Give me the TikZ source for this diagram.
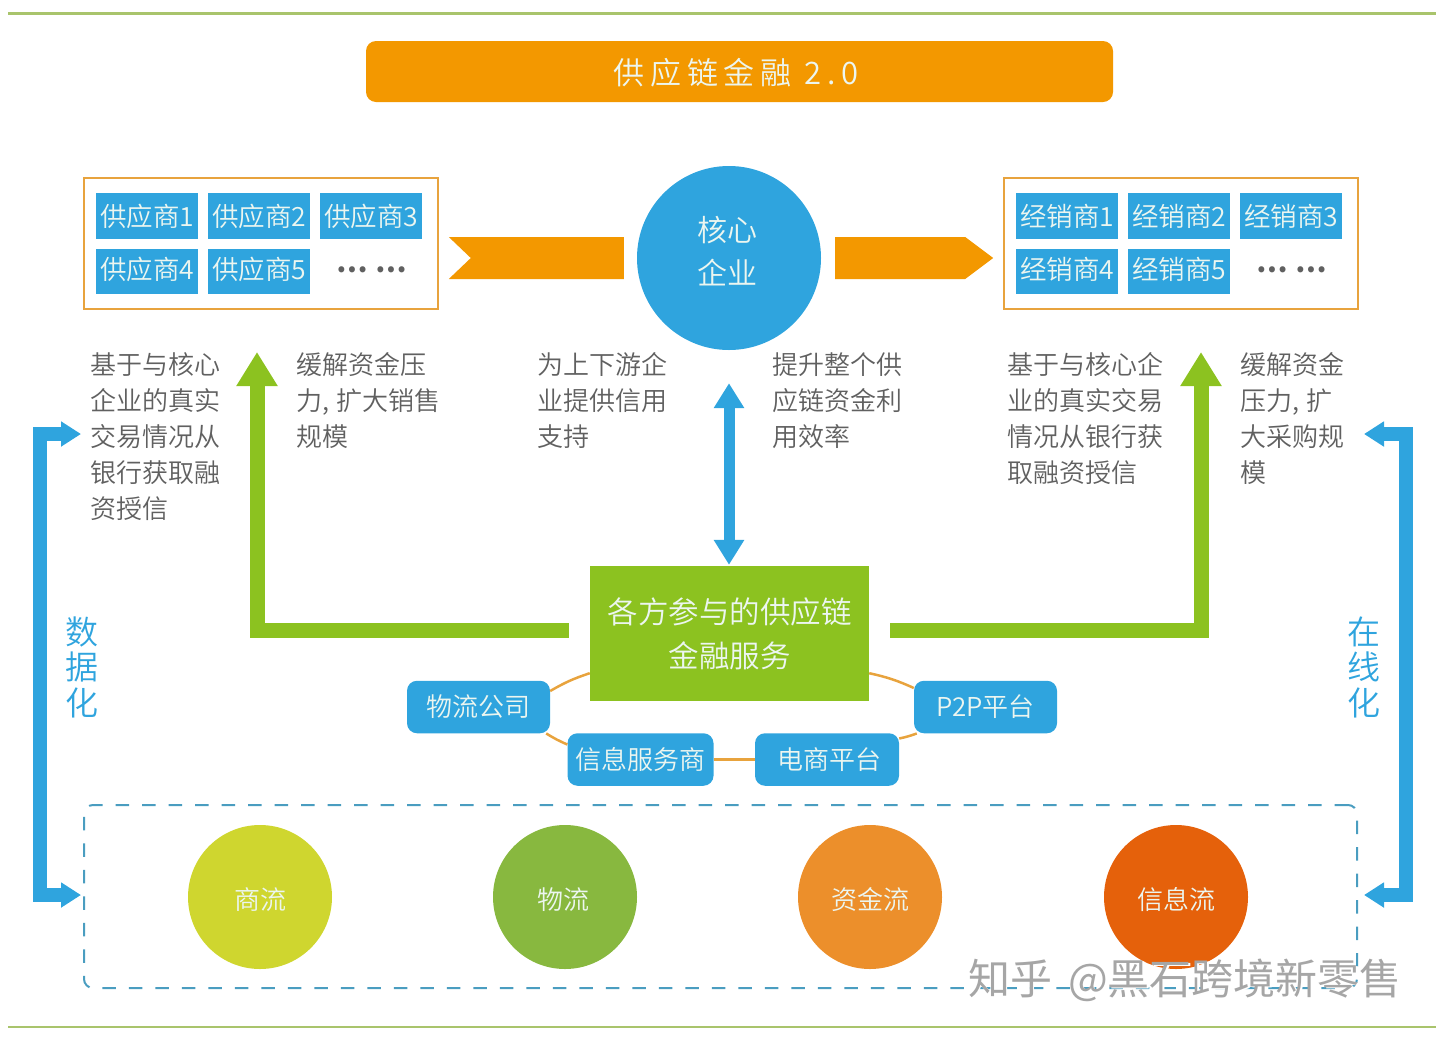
\documentclass[tikz,border=0pt]{standalone}
\usepackage{fontspec}
\setmainfont{Noto Sans CJK SC}[UprightFont=* DemiLight]
\newfontfamily\dotsfont{Noto Sans CJK SC Black}
\newfontfamily\markface{Noto Sans CJK SC}
\usetikzlibrary{arrows.meta,calc}
\definecolor{skyblue}{RGB}{47, 164, 222}
\definecolor{amber}{RGB}{243, 152, 0}
\definecolor{ringorange}{RGB}{232, 163, 61}
\definecolor{leafgreen}{RGB}{140, 194, 32}
\definecolor{rulegreen}{RGB}{169, 196, 108}
\definecolor{dashblue}{RGB}{74, 157, 192}
\definecolor{inkgray}{RGB}{96, 96, 96}
\definecolor{paletext}{RGB}{236, 246, 240}
\definecolor{flowlime}{RGB}{207, 214, 47}
\definecolor{flowgreen}{RGB}{136, 184, 63}
\definecolor{floworange}{RGB}{236, 143, 43}
\definecolor{flowrust}{RGB}{229, 97, 11}
\newcommand{\lowtext}[1]{\rule{0pt}{27.5pt}#1}
\newcommand{\hightext}[1]{\rule[-6pt]{0pt}{6pt}#1}
\tikzset{
  rulerline/.style={draw=rulegreen, line width=2.5pt},
  titlebar/.style={fill=amber, rounded corners=10pt, text=paletext, inner sep=0pt, minimum width=747pt, minimum height=61pt, font=\fontsize{31}{36}\selectfont},
  groupbox/.style={draw=ringorange, line width=2.2pt, fill=white, inner sep=0pt, minimum width=354pt, minimum height=131pt},
  partybox/.style={fill=skyblue, text=paletext, inner sep=0pt, minimum width=102pt, minimum height=45.5pt, font=\fontsize{26.5}{30}\selectfont},
  dotsnode/.style={text=inkgray, inner sep=0pt, font=\dotsfont\fontsize{28}{36}\selectfont},
  corenode/.style={circle, fill=skyblue, inner sep=0pt, minimum size=184pt},
  coretext/.style={text=paletext, inner sep=0pt, align=center, font=\fontsize{30}{43}\selectfont},
  chevron/.style={fill=amber},
  note/.style={anchor=north west, inner sep=0pt, align=left, text=inkgray, font=\fontsize{26}{36}\selectfont},
  sidelabel/.style={inner sep=0pt, align=center, text=skyblue, font=\fontsize{33}{35.5}\selectfont},
  servicebox/.style={fill=leafgreen, text=paletext, inner sep=0pt, minimum width=279pt, minimum height=135pt, align=center, font=\fontsize{30.5}{44}\selectfont},
  platform/.style={fill=skyblue, text=paletext, rounded corners=10pt, inner sep=0pt, minimum height=52.5pt, font=\fontsize{26}{30}\selectfont},
  ringlink/.style={draw=ringorange, line width=2.5pt},
  greenarrow/.style={draw=leafgreen, line width=15pt, -{Triangle[length=34pt, width=39pt]}},
  bluearrow/.style={draw=skyblue, line width=11pt, {Triangle[length=25pt, width=29pt]}-{Triangle[length=25pt, width=29pt]}},
  sidearrow/.style={draw=skyblue, line width=13.5pt, {Triangle[length=20pt, width=24pt]}-{Triangle[length=20pt, width=24pt]}},
  flowframe/.style={draw=dashblue, line width=2pt, rounded corners=9pt, dash pattern=on 13.5pt off 13pt, inner sep=0pt, minimum width=1273pt, minimum height=183pt},
  flownode/.style={circle, text=paletext, inner sep=0pt, minimum size=144pt, font=\fontsize{26}{30}\selectfont},
  markfont/.style={inner sep=0pt, font=\markface\fontsize{42}{46}\selectfont},
}
\begin{document}
\begin{tikzpicture}[x=1pt, y=-1pt]
    \useasboundingbox (0,0) rectangle (1440,1037);
    % rules
    \coordinate (topA) at (8,13.5);
    \coordinate (topB) at (1436,13.5);
    \coordinate (botA) at (8,1027);
    \coordinate (botB) at (1436,1027);
    \draw[rulerline] (topA) -- (topB);
    \draw[rulerline] (botA) -- (botB);
    % title
    \node[titlebar] (title) at (739.5,71.5) {\hspace*{-7pt}\rule{0pt}{29pt}\addfontfeature{LetterSpace=19}供应链金融 2.0};
    % suppliers
    \node[groupbox] (supbox) at (261,243.5) {};
    \node[partybox] (sup1) at (147,216) {\hspace*{1pt}供应商1};
    \node[partybox] (sup2) at (259,216) {\hspace*{1pt}供应商2};
    \node[partybox] (sup3) at (371,216) {\hspace*{1pt}供应商3};
    \node[partybox] (sup4) at (147,271.7) {\hspace*{1pt}\hightext{供应商4}};
    \node[partybox] (sup5) at (259,271.7) {\hspace*{1pt}\hightext{供应商5}};
    \node[dotsnode] (supdots) at (371.5,270) {…\hspace{8pt}…};
    % dealers
    \node[groupbox] (dealbox) at (1181,243.5) {};
    \node[partybox] (deal1) at (1067,216) {\hspace*{1pt}经销商1};
    \node[partybox] (deal2) at (1179,216) {\hspace*{1pt}经销商2};
    \node[partybox] (deal3) at (1291,216) {\hspace*{1pt}经销商3};
    \node[partybox] (deal4) at (1067,271.7) {\hspace*{1pt}\hightext{经销商4}};
    \node[partybox] (deal5) at (1179,271.7) {\hspace*{1pt}\hightext{经销商5}};
    \node[dotsnode] (dealdots) at (1291.5,270) {…\hspace{8pt}…};
    % core
    \node[corenode] (core) at (729,258) {};
    \node[coretext] (coretext) at ([xshift=-1.5pt,yshift=7pt]core.center) {核心\\企业};
    \fill[chevron] ($(core.west)+(-13,-21)$) -- ($(core.west)+(-13,21)$) -- ($(core.west)+(-188,21)$)
        -- ($(core.west)+(-166,0)$) -- ($(core.west)+(-188,-21)$) -- cycle;
    \fill[chevron] ($(core.east)+(14,-21)$) -- ($(core.east)+(144,-21)$) -- ($(core.east)+(172,0)$)
        -- ($(core.east)+(144,21)$) -- ($(core.east)+(14,21)$) -- cycle;
    % notes
    \node[note] (noteA) at (90,352.5) {基于与核心\\企业的真实\\交易情况从\\银行获取融\\资授信};
    \node[note] (noteB) at (296,352.5) {缓解资金压\\力,\hspace{7pt}扩大销售\\规模};
    \node[note] (noteC) at (537,352.5) {为上下游企\\业提供信用\\支持};
    \node[note] (noteD) at (772,352.5) {提升整个供\\应链资金利\\用效率};
    \node[note] (noteE) at (1007,352.5) {基于与核心企\\业的真实交易\\情况从银行获\\取融资授信};
    \node[note] (noteF) at (1240,352.5) {缓解资金\\压力,\hspace{7pt}扩\\大采购规\\模};
    % services
    \node[servicebox] (svc) at (729.5,633.5) {各方参与的供应链\\金融服务};
    \node[platform, minimum width=143pt] (logi) at (478.5,707) {物流公司};
    \node[platform, minimum width=146pt] (info) at (640.5,759.5) {信息服务商};
    \node[platform, minimum width=144pt] (ecom) at (827,759.5) {\hspace*{4pt}电商平台};
    \node[platform, minimum width=143pt] (ptwop) at (985.5,707) {P2P平台};
    \draw[ringlink] ([yshift=16pt]logi.east) to[bend left=6] ($(svc.south west)+(0,-28)$);
    \draw[ringlink] ([xshift=-4pt]logi.south east) to[bend right=4] ([yshift=15pt]info.west);
    \draw[ringlink] (info.east) -- (ecom.west);
    \draw[ringlink] ([yshift=21pt]ecom.east) to[bend right=4] ([xshift=3pt]ptwop.south west);
    \draw[ringlink] ([yshift=19pt]ptwop.west) to[bend right=6] ($(svc.south east)+(0,-28)$);
    % arrows
    \coordinate (greenL) at (257,352);
    \coordinate (greenR) at (1201,352);
    \draw[greenarrow, shorten <=21pt] ([yshift=3.5pt]svc.west) -| (greenL);
    \draw[greenarrow, shorten <=21pt] ([yshift=3.5pt]svc.east) -| (greenR);
    \draw[bluearrow, shorten <=33pt, shorten >=1pt] (core.south) -- (core.south |- svc.north);
    % flows
    \node[flowframe] (flowbox) at (720.5,896.5) {};
    \node[flownode, fill=flowlime] (trade) at (260,897) {\lowtext{商流}};
    \node[flownode, fill=flowgreen] (goods) at (565,897) {\hspace*{-4pt}\lowtext{物流}};
    \node[flownode, fill=floworange] (funds) at (870,897) {\lowtext{资金流}};
    \node[flownode, fill=flowrust] (infoflow) at (1176,897) {\lowtext{信息流}};
    % side arrows
    \coordinate (leftT) at (81,434);
    \coordinate (leftB) at (81,895);
    \coordinate (rightT) at (1364,434);
    \coordinate (rightB) at (1364,895);
    \draw[sidearrow] (leftT) -- (40,434) -- (40,895) -- (leftB);
    \draw[sidearrow] (rightT) -- (1406,434) -- (1406,895) -- (rightB);
    \node[sidelabel] (datalabel) at (82,667) {数\\据\\化};
    \node[sidelabel] (onlinelabel) at (1364,667) {在\\线\\化};
    % mark
    \node[markfont, text=white] (markback) at (1186.5,981) {知乎\hspace{16pt}@黑石跨境新零售};
    \node[markfont, text=gray!70] (mark) at (1185,980) {知乎\hspace{16pt}@黑石跨境新零售};
\end{tikzpicture}
\end{document}
